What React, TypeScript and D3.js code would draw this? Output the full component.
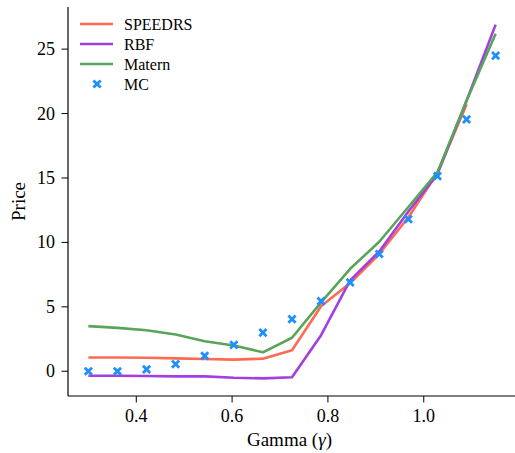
import React from "react";
import * as d3 from "d3";

const gammas = [0.3, 0.3607, 0.4214, 0.4821, 0.5429, 0.6036, 0.6643, 0.725, 0.7857, 0.8464, 0.9071, 0.9679, 1.0286, 1.0893, 1.15];
const speedrs = [1.07, 1.07, 1.05, 1.0, 0.95, 0.9, 0.98, 1.63, 5.05, 6.85, 9.1, 11.95, 15.4, 20.7];
const rbf = [-0.35, -0.35, -0.37, -0.4, -0.4, -0.5, -0.55, -0.47, 2.8, 7.05, 9.3, 12.4, 15.3, 21.0, 26.9];
const matern = [3.5, 3.37, 3.18, 2.85, 2.33, 2.0, 1.47, 2.6, 5.35, 7.95, 10.05, 12.75, 15.45, 21.0, 26.2];
const mc = [0.0, 0.0, 0.15, 0.55, 1.2, 2.05, 3.0, 4.05, 5.45, 6.9, 9.1, 11.8, 15.15, 19.55, 24.5];
const xTicks = [0.4, 0.6, 0.8, 1.0];
const yTicks = [0, 5, 10, 15, 20, 25];

const series = [
  { name: "SPEEDRS", values: speedrs, color: "#ff6a52" },
  { name: "RBF", values: rbf, color: "#a33ee0" },
  { name: "Matern", values: matern, color: "#58a458" },
];
const mcColor = "#1e8fff";

export default function App() {
  const W = 515, H = 453;
  const left = 68, right = 516, top = 7, bottom = 396;
  const x = d3.scaleLinear().domain([0.2575, 1.1925]).range([left, right]);
  const y = d3.scaleLinear().domain([-1.92, 28.27]).range([bottom, top]);
  const font = "'Liberation Serif', 'DejaVu Serif', serif";
  const tickFs = 18;
  const labelFs = 19;
  const legFs = 16;
  const line = d3.line<number>().x((_, i) => x(gammas[i])).y((d) => y(d));
  const xMark = (cx: number, cy: number, s: number, color: string, key: string) => (
    <path key={key} d={`M${cx - s},${cy - s}L${cx + s},${cy + s}M${cx - s},${cy + s}L${cx + s},${cy - s}`} stroke={color} strokeWidth={2.8} fill="none" />
  );
  return (
    <svg width={W} height={H} style={{ position: "absolute", left: 0, top: 0, background: "#fff" }} fontFamily={font}>
      <rect width={W} height={H} fill="#fff" />
      {series.map((s) => (
        <path key={s.name} d={line(s.values) || ""} fill="none" stroke={s.color} strokeWidth={2.6} strokeLinejoin="round" />
      ))}
      {mc.map((v, i) => xMark(x(gammas[i]), y(v), 3.6, mcColor, "mc" + i))}
      <line x1={left} x2={left} y1={top} y2={bottom} stroke="#000" strokeWidth={1.2} />
      <line x1={left} x2={W} y1={bottom} y2={bottom} stroke="#000" strokeWidth={1.2} />
      {xTicks.map((t) => (
        <g key={"x" + t}>
          <line x1={x(t)} x2={x(t)} y1={bottom} y2={bottom + 6.5} stroke="#000" strokeWidth={1} />
          <text x={x(t)} y={bottom + 25.5} textAnchor="middle" fontSize={tickFs}>{t.toFixed(1)}</text>
        </g>
      ))}
      {yTicks.map((t) => (
        <g key={"y" + t}>
          <line x1={left - 6.5} x2={left} y1={y(t)} y2={y(t)} stroke="#000" strokeWidth={1} />
          <text x={left - 13} y={y(t) + 6} textAnchor="end" fontSize={tickFs}>{t}</text>
        </g>
      ))}
      <text x={(left + W) / 2 - 2} y={446} textAnchor="middle" fontSize={labelFs}>
        Gamma (<tspan fontStyle="italic">γ</tspan>)
      </text>
      <text transform={`translate(25,${(top + bottom) / 2}) rotate(-90)`} textAnchor="middle" fontSize={labelFs}>Price</text>
      {series.map((s, i) => (
        <g key={"lg" + s.name}>
          <line x1={80} x2={113} y1={24 + i * 20} y2={24 + i * 20} stroke={s.color} strokeWidth={2.6} />
          <text x={124} y={24 + i * 20 + 5.5} fontSize={legFs}>{s.name}</text>
        </g>
      ))}
      {xMark(97, 84, 3.6, mcColor, "lgmc")}
      <text x={124} y={84 + 5.5} fontSize={legFs}>MC</text>
    </svg>
  );
}
